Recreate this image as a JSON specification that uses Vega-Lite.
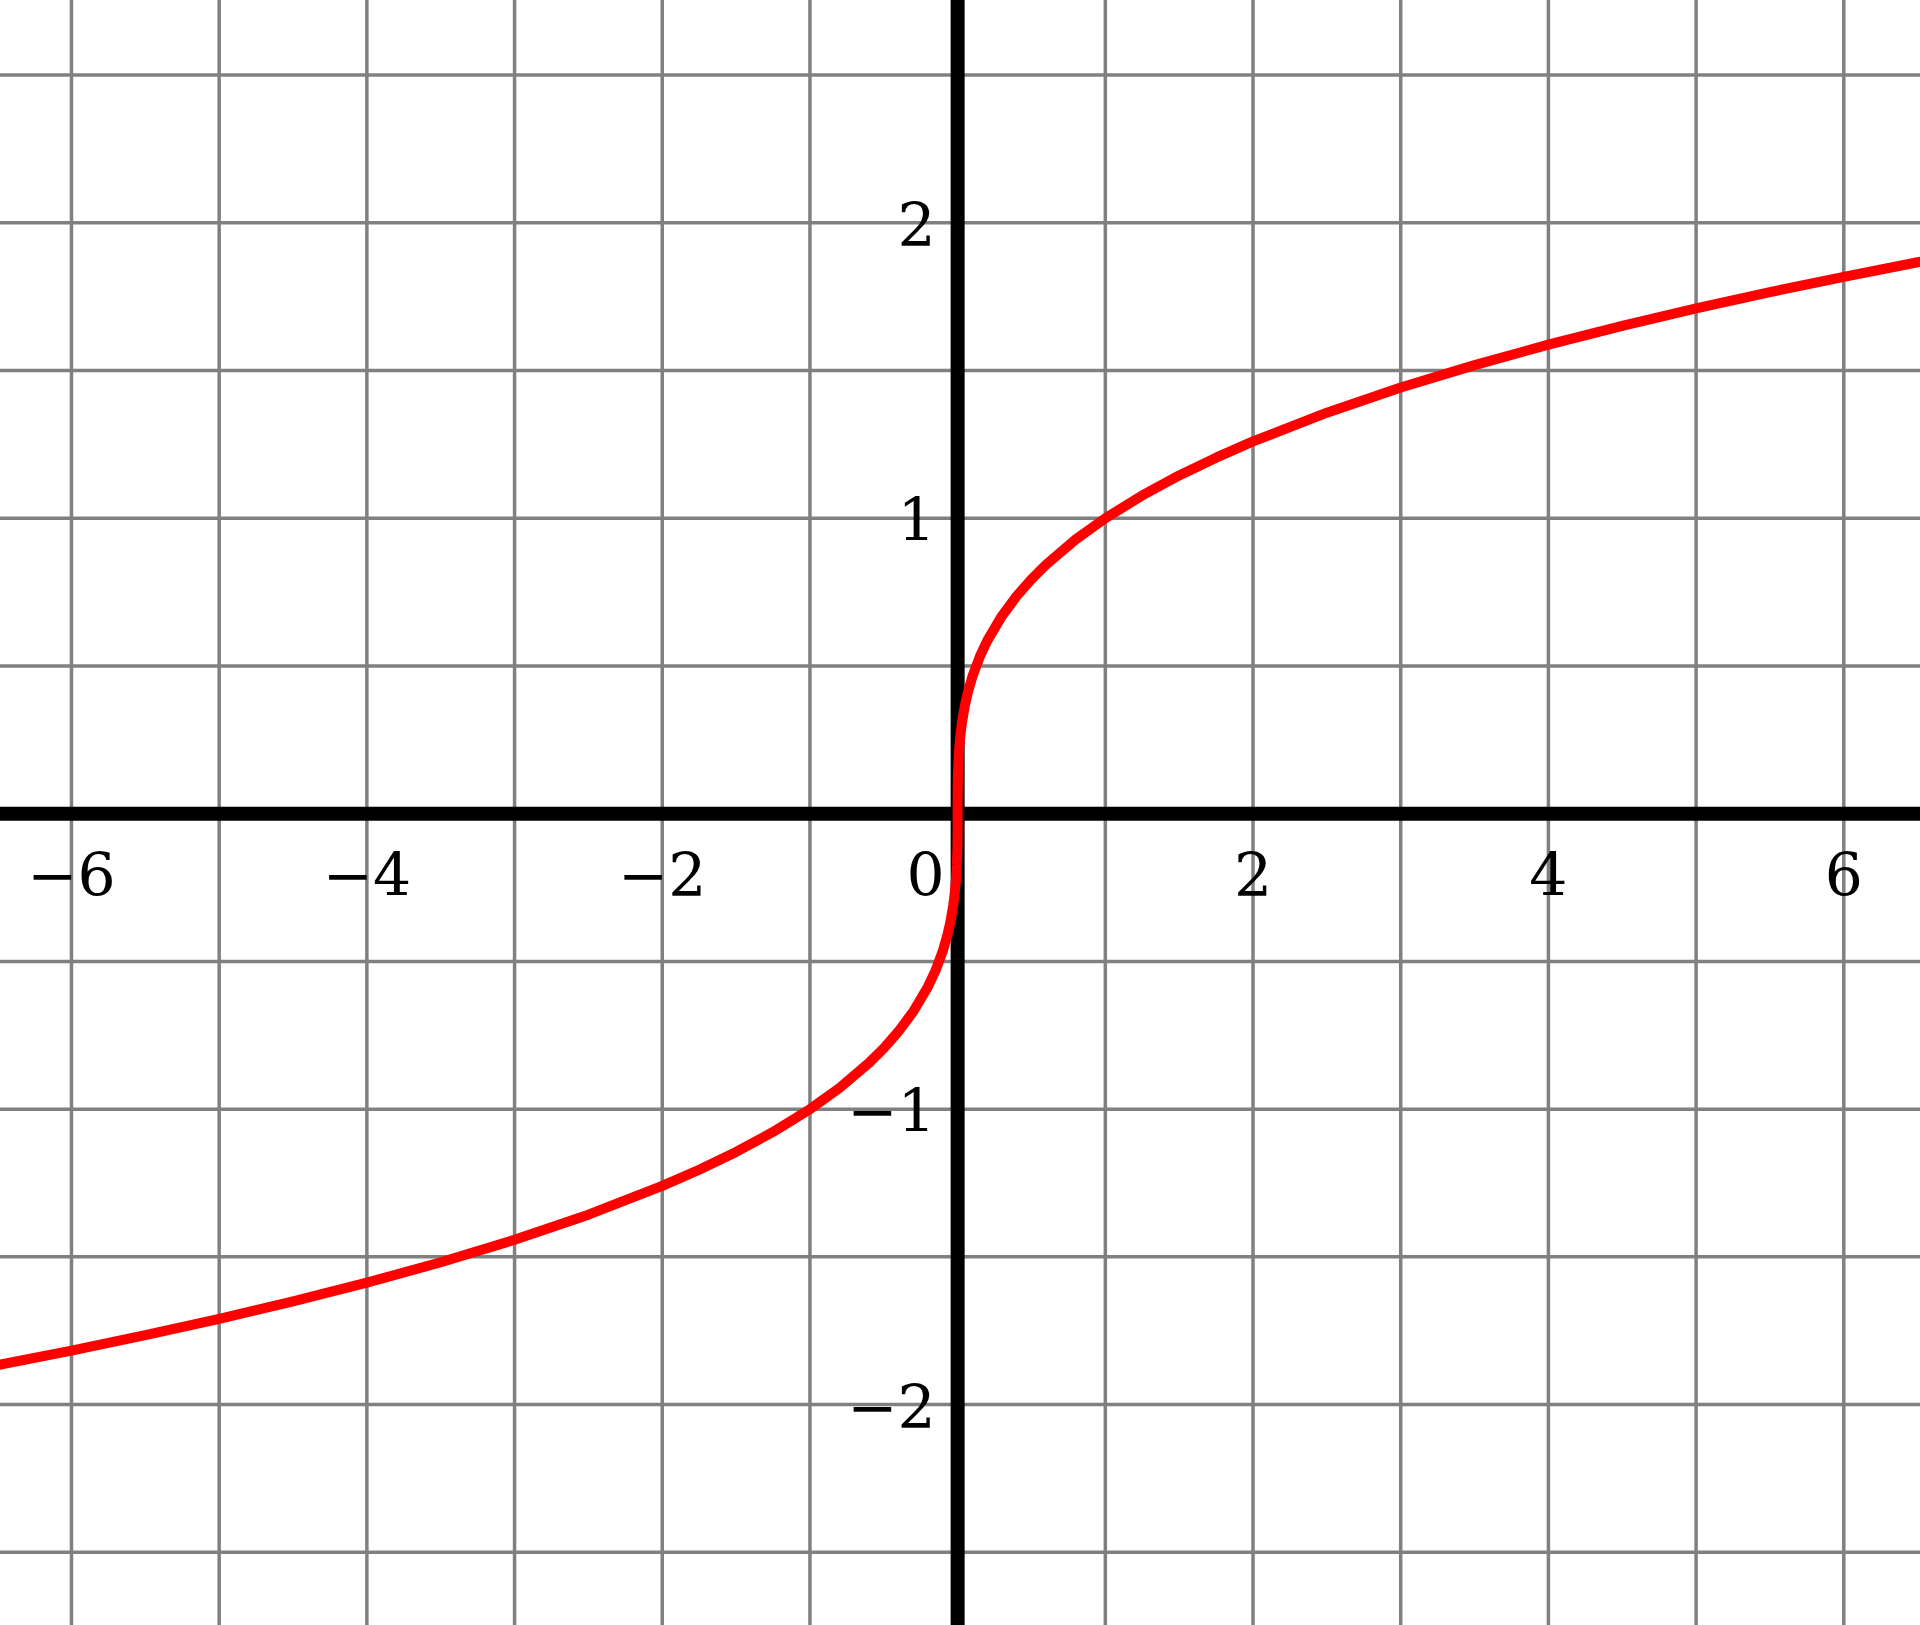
{
  "$schema": "https://vega.github.io/schema/vega-lite/v6.json",
  "width": 1920,
  "height": 1625,
  "autosize": {"type": "none"},
  "padding": 0,
  "background": "white",
  "config": {"view": {"stroke": null}},
  "datasets": {
    "gridx": [{"gx": -6}, {"gx": -5}, {"gx": -4}, {"gx": -3}, {"gx": -2}, {"gx": -1}, {"gx": 1}, {"gx": 2}, {"gx": 3}, {"gx": 4}, {"gx": 5}, {"gx": 6}],
    "gridy": [{"gy": -2.5}, {"gy": -2}, {"gy": -1.5}, {"gy": -1}, {"gy": -0.5}, {"gy": 0.5}, {"gy": 1}, {"gy": 1.5}, {"gy": 2}, {"gy": 2.5}],
    "curve": [
      {"x": -6.5, "y": -1.8663}, {"x": -6, "y": -1.8171}, {"x": -5.5, "y": -1.7652}, {"x": -5, "y": -1.71},
      {"x": -4.5, "y": -1.651}, {"x": -4, "y": -1.5874}, {"x": -3.5, "y": -1.5183}, {"x": -3, "y": -1.4422},
      {"x": -2.5, "y": -1.3572}, {"x": -2, "y": -1.2599}, {"x": -1.75, "y": -1.2051}, {"x": -1.5, "y": -1.1447},
      {"x": -1.25, "y": -1.0772}, {"x": -1, "y": -1}, {"x": -0.8, "y": -0.9283}, {"x": -0.6, "y": -0.8434},
      {"x": -0.5, "y": -0.7937}, {"x": -0.4, "y": -0.7368}, {"x": -0.3, "y": -0.6694}, {"x": -0.2, "y": -0.5848},
      {"x": -0.15, "y": -0.5313}, {"x": -0.1, "y": -0.4642}, {"x": -0.07, "y": -0.4121}, {"x": -0.05, "y": -0.3684},
      {"x": -0.03, "y": -0.3107}, {"x": -0.02, "y": -0.2714}, {"x": -0.01, "y": -0.2154}, {"x": -0.005, "y": -0.171},
      {"x": -0.002, "y": -0.126}, {"x": -0.001, "y": -0.1}, {"x": -0.0003, "y": -0.0669}, {"x": -0.0001, "y": -0.0464},
      {"x": 0, "y": 0},
      {"x": 0.0001, "y": 0.0464}, {"x": 0.0003, "y": 0.0669}, {"x": 0.001, "y": 0.1}, {"x": 0.002, "y": 0.126},
      {"x": 0.005, "y": 0.171}, {"x": 0.01, "y": 0.2154}, {"x": 0.02, "y": 0.2714}, {"x": 0.03, "y": 0.3107},
      {"x": 0.05, "y": 0.3684}, {"x": 0.07, "y": 0.4121}, {"x": 0.1, "y": 0.4642}, {"x": 0.15, "y": 0.5313},
      {"x": 0.2, "y": 0.5848}, {"x": 0.3, "y": 0.6694}, {"x": 0.4, "y": 0.7368}, {"x": 0.5, "y": 0.7937},
      {"x": 0.6, "y": 0.8434}, {"x": 0.8, "y": 0.9283}, {"x": 1, "y": 1}, {"x": 1.25, "y": 1.0772},
      {"x": 1.5, "y": 1.1447}, {"x": 1.75, "y": 1.2051}, {"x": 2, "y": 1.2599}, {"x": 2.5, "y": 1.3572},
      {"x": 3, "y": 1.4422}, {"x": 3.5, "y": 1.5183}, {"x": 4, "y": 1.5874}, {"x": 4.5, "y": 1.651},
      {"x": 5, "y": 1.71}, {"x": 5.5, "y": 1.7652}, {"x": 6, "y": 1.8171}, {"x": 6.5, "y": 1.8663}, {"x": 6.6, "y": 1.8758}
    ],
    "xlabels": [{"v": -6, "t": "−6"}, {"v": -4, "t": "−4"}, {"v": -2, "t": "−2"}, {"v": 2, "t": "2"}, {"v": 4, "t": "4"}, {"v": 6, "t": "6"}],
    "zerolabel": [{"v": 0, "t": "0"}],
    "ylabels": [{"v": 2, "t": "2"}, {"v": 1, "t": "1"}, {"v": -1, "t": "−1"}, {"v": -2, "t": "−2"}]
  },
  "layer": [
    {
      "data": {"name": "gridx"},
      "mark": {"type": "rule", "color": "#808080", "strokeWidth": 3.5},
      "encoding": {
        "x": {"field": "gx", "type": "quantitative", "scale": {"domain": [-6.484, 6.516], "nice": false, "zero": false}, "axis": null}
      }
    },
    {
      "data": {"name": "gridy"},
      "mark": {"type": "rule", "color": "#808080", "strokeWidth": 3.5},
      "encoding": {
        "y": {"field": "gy", "type": "quantitative", "scale": {"domain": [-2.746, 2.754], "nice": false, "zero": false}, "axis": null}
      }
    },
    {
      "data": {"values": [{}]},
      "mark": {"type": "rule", "color": "black", "strokeWidth": 14},
      "encoding": {"x": {"datum": 0, "type": "quantitative"}}
    },
    {
      "data": {"values": [{}]},
      "mark": {"type": "rule", "color": "black", "strokeWidth": 14},
      "encoding": {"y": {"datum": 0, "type": "quantitative"}}
    },
    {
      "data": {"name": "curve"},
      "mark": {"type": "line", "color": "#ff0000", "strokeWidth": 10, "strokeJoin": "round", "strokeCap": "butt", "clip": true},
      "encoding": {
        "x": {"field": "x", "type": "quantitative"},
        "y": {"field": "y", "type": "quantitative"}
      }
    },
    {
      "data": {"name": "xlabels"},
      "mark": {"type": "text", "font": "DejaVu Serif", "fontSize": 60, "align": "center", "baseline": "alphabetic", "dy": 82, "color": "black"},
      "encoding": {
        "x": {"field": "v", "type": "quantitative"},
        "y": {"datum": 0, "type": "quantitative"},
        "text": {"field": "t"}
      }
    },
    {
      "data": {"name": "zerolabel"},
      "mark": {"type": "text", "font": "DejaVu Serif", "fontSize": 60, "align": "center", "baseline": "alphabetic", "dy": 82, "dx": -32, "color": "black"},
      "encoding": {
        "x": {"field": "v", "type": "quantitative"},
        "y": {"datum": 0, "type": "quantitative"},
        "text": {"field": "t"}
      }
    },
    {
      "data": {"name": "ylabels"},
      "mark": {"type": "text", "font": "DejaVu Serif", "fontSize": 60, "align": "right", "baseline": "alphabetic", "dy": 23, "dx": -22, "color": "black"},
      "encoding": {
        "x": {"datum": 0, "type": "quantitative"},
        "y": {"field": "v", "type": "quantitative"},
        "text": {"field": "t"}
      }
    }
  ]
}
